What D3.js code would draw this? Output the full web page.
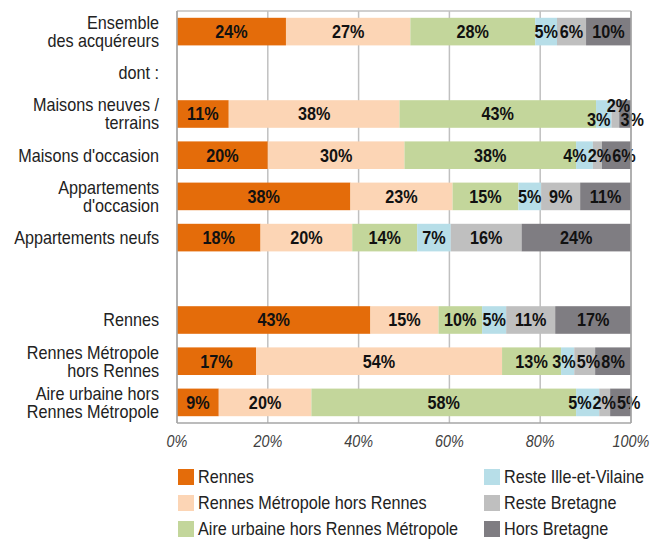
<!DOCTYPE html>
<html>
<head>
<meta charset="utf-8">
<script src="https://cdn.jsdelivr.net/npm/d3@7"></script>
<style>
  body { margin: 0; background: #fff; }
  text { font-family: "Liberation Sans", Arial, sans-serif; }
</style>
</head>
<body>
<div id="chart-container"></div>
<script>
// Rows of the chart (empty rows keep the gaps)
var categories = [
  "Ensemble\ndes acquéreurs",
  "dont :",
  "Maisons neuves /\nterrains",
  "Maisons d'occasion",
  "Appartements\nd'occasion",
  "Appartements neufs",
  "",
  "Rennes",
  "Rennes Métropole\nhors Rennes",
  "Aire urbaine hors\nRennes Métropole"
];

// Series names (destination of the buyers)
var seriesNames = [
  "Rennes",
  "Rennes Métropole hors Rennes",
  "Aire urbaine hors Rennes Métropole",
  "Reste Ille-et-Vilaine",
  "Reste Bretagne",
  "Hors Bretagne"
];

// Values in %, one array per series, null for the empty rows
var rennes       = [24.0, null, 11.4, 20.0, 38.2, 18.4, null, 42.6, 17.4, 9.2];
var metropole    = [27.4, null, 37.6, 30.1, 22.5, 20.2, null, 15.0, 54.2, 20.4];
var aireUrbaine  = [27.5, null, 43.3, 37.8, 14.5, 14.3, null,  9.6, 13.0, 58.3];
var resteIlle    = [ 4.8, null,  3.4,  3.7,  5.0,  7.4, null,  5.3,  2.9,  5.1];
var resteBretagne= [ 6.4, null,  1.7,  2.0,  8.6, 15.6, null, 10.8,  4.6,  2.4];
var horsBretagne = [ 9.9, null,  2.6,  6.4, 11.2, 24.1, null, 16.7,  7.9,  4.6];

var tickValues = [0, 20, 40, 60, 80, 100];

var colors = ["#e46c0a", "#fcd5b5", "#c3d69b", "#b7dee8", "#bfbfbf", "#7f7d82"];

var allSeries = [rennes, metropole, aireUrbaine, resteIlle, resteBretagne, horsBretagne];

// The reference uses a condensed font: squeeze the text horizontally
var squeeze = 0.9;
function place(x, y) {
  return "translate(" + x + "," + y + ") scale(" + squeeze + ",1)";
}

// Dimensions
var width = 660, height = 539;
var margin = { top: 11, right: 29, bottom: 116, left: 177 };
var innerW = width - margin.left - margin.right;
var innerH = height - margin.top - margin.bottom;

var svg = d3
  .select("#chart-container")
  .append("svg")
  .attr("width", width)
  .attr("height", height);

var g = svg
  .append("g")
  .attr("transform", "translate(" + margin.left + "," + margin.top + ")");

// Scales
var xScale = d3.scaleLinear().domain([0, 100]).range([0, innerW]);
var yScale = d3
  .scaleBand()
  .domain(d3.range(categories.length))
  .range([0, innerH])
  .paddingInner(0.33)
  .paddingOuter(0.165);

// Gridlines
g.selectAll(".grid")
  .data(tickValues)
  .enter()
  .append("line")
  .attr("x1", function (d) { return xScale(d); })
  .attr("x2", function (d) { return xScale(d); })
  .attr("y1", 0)
  .attr("y2", innerH)
  .attr("stroke", "#c0c0c0")
  .attr("stroke-width", 1.5);

// Top border
g.append("line")
  .attr("x1", 0)
  .attr("x2", innerW)
  .attr("y1", 0)
  .attr("y2", 0)
  .attr("stroke", "#c0c0c0")
  .attr("stroke-width", 1.5);

// Build stacked segments
var segments = [];
categories.forEach(function (c, i) {
  var x0 = 0;
  allSeries.forEach(function (s, k) {
    if (s[i] == null) return;
    segments.push({ row: i, series: k, x0: x0, x1: x0 + s[i], value: s[i] });
    x0 += s[i];
  });
});

g.selectAll(".bar")
  .data(segments)
  .enter()
  .append("rect")
  .attr("x", function (d) { return xScale(d.x0); })
  .attr("width", function (d) { return xScale(d.x1) - xScale(d.x0); })
  .attr("y", function (d) { return yScale(d.row); })
  .attr("height", yScale.bandwidth())
  .attr("fill", function (d) { return colors[d.series]; });

// Value labels
var valLabels = g
  .selectAll(".val")
  .data(segments)
  .enter()
  .append("text")
  .attr("dy", "0.36em")
  .attr("text-anchor", "middle")
  .attr("font-size", "18px")
  .attr("font-weight", "bold")
  .attr("fill", "#111")
  .text(function (d) { return Math.round(d.value) + "%"; });

// Start at the middle of each segment, then push crowded labels apart
valLabels.each(function (d) {
  d.cx = xScale((d.x0 + d.x1) / 2);
  d.cy = yScale(d.row) + yScale.bandwidth() / 2;
  d.w = this.getComputedTextLength() * squeeze;
});

d3.range(categories.length).forEach(function (row) {
  if (row === 2) return;
  var items = segments.filter(function (d) { return d.row === row; });
  for (var it = 0; it < 60; it++) {
    for (var i = 0; i < items.length - 1; i++) {
      var a = items[i], b = items[i + 1];
      var overlap = a.cx + a.w / 2 - (b.cx - b.w / 2) + 1;
      if (overlap > 0) {
        a.cx -= overlap / 2;
        b.cx += overlap / 2;
      }
    }
  }
});

// the right end of "Maisons neuves" is stacked as in the reference
segments.forEach(function (d) {
  if (d.row !== 2) return;
  if (d.series === 3) { d.cx -= 5; d.cy += 6; }
  if (d.series === 4) { d.cx += 3; d.cy -= 8; }
  if (d.series === 5) { d.cx += 7; d.cy += 6; }
});

valLabels.attr("transform", function (d) { return place(d.cx, d.cy); });

// Axis lines (left, bottom, right)
g.append("line")
  .attr("x1", 0).attr("x2", 0)
  .attr("y1", 0).attr("y2", innerH)
  .attr("stroke", "#a6a6a6")
  .attr("stroke-width", 1.5);
g.append("line")
  .attr("x1", 0).attr("x2", innerW)
  .attr("y1", innerH).attr("y2", innerH)
  .attr("stroke", "#a6a6a6")
  .attr("stroke-width", 1.5);
g.append("line")
  .attr("x1", innerW).attr("x2", innerW)
  .attr("y1", 0).attr("y2", innerH)
  .attr("stroke", "#a6a6a6")
  .attr("stroke-width", 1.5);

// X tick labels
g.selectAll(".tick-label")
  .data(tickValues)
  .enter()
  .append("text")
  .attr("transform", function (d) { return place(xScale(d), innerH + 24); })
  .attr("text-anchor", "middle")
  .attr("font-size", "16px")
  .attr("font-style", "italic")
  .attr("fill", "#404040")
  .text(function (d) { return d + "%"; });

// Category labels
var catLabels = g
  .selectAll(".cat")
  .data(categories)
  .enter()
  .append("text")
  .attr("text-anchor", "end")
  .attr("font-size", "18px")
  .attr("fill", "#222")
  .attr("transform", function (d, i) {
    return place(-18, yScale(i) + yScale.bandwidth() / 2);
  });

catLabels.each(function (d) {
  var lines = d.split("\n");
  var t = d3.select(this);
  lines.forEach(function (line, j) {
    t.append("tspan")
      .attr("x", 0)
      .attr("y", (j - (lines.length - 1) / 2) * 18)
      .attr("dy", "0.36em")
      .text(line);
  });
});

// Legend
var legend = svg
  .selectAll(".legend")
  .data(seriesNames)
  .enter()
  .append("g")
  .attr("transform", function (d, i) {
    var col = Math.floor(i / 3), row = i % 3;
    return "translate(" + (178 + col * 306) + "," + (469 + row * 26) + ")";
  });

legend.append("rect")
  .attr("width", 16)
  .attr("height", 16)
  .attr("fill", function (d, i) { return colors[i]; });

legend.append("text")
  .attr("transform", place(20, 8))
  .attr("dy", "0.36em")
  .attr("font-size", "18px")
  .attr("fill", "#222")
  .text(function (d) { return d; });
</script>
</body>
</html>
